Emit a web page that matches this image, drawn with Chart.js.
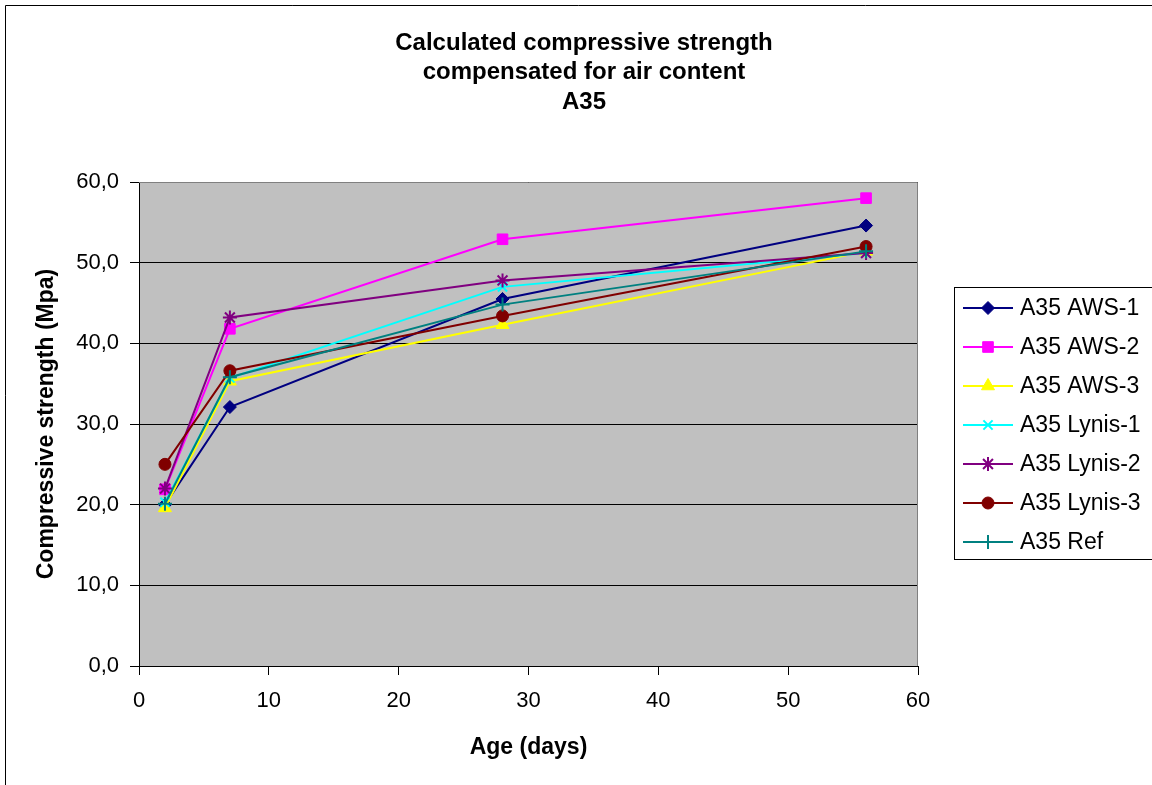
<!DOCTYPE html>
<html>
<head>
<meta charset="utf-8">
<script src="https://cdn.jsdelivr.net/npm/chart.js@4.4.1/dist/chart.umd.min.js"></script>
<style>
  html, body { margin: 0; padding: 0; background: #fff; }
  #wrap { width: 1152px; height: 785px; }
</style>
</head>
<body>
<div id="wrap"><canvas id="strengthChart" width="1152" height="785"></canvas></div>
<script>
const ages = [2, 7, 28, 56];
const seriesNames = ['A35 AWS-1', 'A35 AWS-2', 'A35 AWS-3', 'A35 Lynis-1', 'A35 Lynis-2', 'A35 Lynis-3', 'A35 Ref'];
const aws1 = [20.0, 32.1, 45.5, 54.6];
const aws2 = [21.9, 41.8, 52.9, 58.0];
const aws3 = [19.6, 35.3, 42.3, 51.4];
const lynis1 = [20.3, 35.7, 47.0, 51.2];
const lynis2 = [22.0, 43.2, 47.8, 51.2];
const lynis3 = [25.0, 36.6, 43.4, 52.0];
const ref = [20.1, 35.8, 44.8, 51.4];
const yTicks = [0, 10, 20, 30, 40, 50, 60];

const colors = ['#000080', '#ff00ff', '#ffff00', '#00ffff', '#800080', '#800000', '#008080'];
const markers = ['rectRot', 'rect', 'triangle', 'crossRot', 'star', 'circle', 'cross'];
const radii = [6.5, 7.5, 7.5, 6.5, 7, 6, 7];
const values = [aws1, aws2, aws3, lynis1, lynis2, lynis3, ref];
const FONT = '"Liberation Sans", Arial, sans-serif';

const datasets = values.map((v, i) => ({
    label: seriesNames[i],
    data: ages.map((a, j) => ({ x: a, y: v[j] })),
    borderColor: colors[i],
    backgroundColor: colors[i],
    borderWidth: 2,
    pointStyle: markers[i],
    pointRadius: radii[i],
    pointBorderWidth: ['crossRot', 'star', 'cross'].includes(markers[i]) ? 2 : 1,
    order: 6 - i,
    tension: 0
}));

const frame = {
    id: 'frame',
    beforeDraw(chart) {
        const c = chart.ctx, a = chart.chartArea;
        c.save();
        c.fillStyle = '#c0c0c0';
        c.fillRect(a.left, a.top, a.right - a.left, a.bottom - a.top);
        c.restore();
    },
    afterDatasetsDraw(chart) {
        const c = chart.ctx, a = chart.chartArea;
        c.save();
        c.strokeStyle = '#808080';
        c.lineWidth = 1;
        c.beginPath();
        c.moveTo(a.left, a.top + 0.5);
        c.lineTo(a.right - 0.5, a.top + 0.5);
        c.lineTo(a.right - 0.5, a.bottom);
        c.stroke();
        c.restore();
    },
    afterDraw(chart) {
        const c = chart.ctx;
        c.save();
        // outer frame
        c.strokeStyle = '#000';
        c.lineWidth = 1;
        c.beginPath();
        c.moveTo(5.5, 785);
        c.lineTo(5.5, 5.5);
        c.lineTo(1152, 5.5);
        c.stroke();
        // title
        c.fillStyle = '#000';
        c.font = 'bold 24px ' + FONT;
        c.textAlign = 'center';
        c.textBaseline = 'middle';
        ['Calculated compressive strength', 'compensated for air content', 'A35']
            .forEach((t, i) => c.fillText(t, 584, 43 + i * 29.5));
        // legend
        c.fillStyle = '#fff';
        c.fillRect(954.5, 287.5, 205, 272);
        c.strokeRect(954.5, 287.5, 205, 272);
        c.font = '23px ' + FONT;
        c.textAlign = 'left';
        seriesNames.forEach((name, i) => {
            const y = 308 + i * 39;
            c.strokeStyle = colors[i];
            c.lineWidth = 2;
            c.beginPath();
            c.moveTo(963, y);
            c.lineTo(1013, y);
            c.stroke();
            c.fillStyle = colors[i];
            c.lineWidth = datasets[i].pointBorderWidth;
            Chart.helpers.drawPoint(c, { pointStyle: markers[i], radius: radii[i], rotation: 0, borderWidth: datasets[i].pointBorderWidth }, 988, y);
            c.fillStyle = '#000';
            c.fillText(name, 1020, y + 1);
        });
        c.restore();
    }
};

const ctx = document.getElementById('strengthChart').getContext('2d');
const strengthChart = new Chart(ctx, {
    type: 'line',
    data: { datasets: datasets },
    options: {
        responsive: false,
        animation: false,
        layout: { padding: { top: 182, left: 33, right: 234, bottom: 20 } },
        plugins: { legend: { display: false }, title: { display: false }, tooltip: { enabled: false } },
        scales: {
            x: {
                type: 'linear',
                min: 0, max: 60,
                afterFit(s) { s.height = 785 - 666 - 20; },
                ticks: { stepSize: 10, color: '#000', padding: 13, font: { family: FONT, size: 22 } },
                grid: { drawOnChartArea: false, tickLength: 9, color: '#000' },
                border: { color: '#000' },
                title: { display: true, text: 'Age (days)', color: '#000', padding: { top: 6 }, font: { family: FONT, size: 23, weight: 'bold' } }
            },
            y: {
                min: 0, max: 60,
                afterFit(s) { s.width = 139 - 33; },
                afterBuildTicks(s) { s.ticks = yTicks.map(v => ({ value: v })); },
                ticks: {
                    color: '#000', padding: 11,
                    font: { family: FONT, size: 22 },
                    callback: v => v.toFixed(1).replace('.', ',')
                },
                grid: { color: '#000', tickLength: 9 },
                border: { color: '#000' },
                title: { display: true, text: 'Compressive strength (Mpa)', color: '#000', padding: 0, font: { family: FONT, size: 23, weight: 'bold' } }
            }
        }
    },
    plugins: [frame]
});
</script>
</body>
</html>
